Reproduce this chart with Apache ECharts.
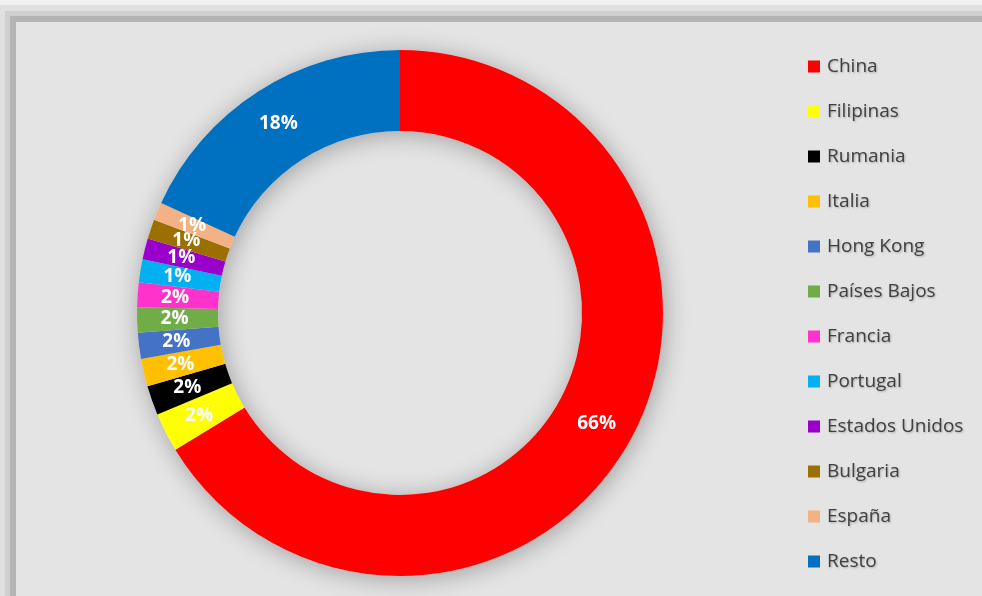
<!DOCTYPE html>
<html>
<head>
<meta charset="utf-8">
<script src="https://cdn.jsdelivr.net/npm/echarts@6/dist/echarts.min.js"></script>
<style>
  html, body { margin: 0; padding: 0; width: 982px; height: 596px; overflow: hidden; background: #f2f2f2; }
  #wrap { position: absolute; left: 16px; top: 22px; width: 1000px; height: 600px;
    background: #e4e4e4;
    box-shadow: -6px -6px 0 0 #b4b4b4, -11px -11px 0 0 #cfcfcf, -17px -17px 0 0 #e0e0e0; }
  #main { position: absolute; left: 0; top: 0; width: 966px; height: 574px; }
</style>
</head>
<body>
<div id="wrap"><div id="main"></div></div>
<script>
// países de origen y su cuota (%)
var paises = ['China', 'Filipinas', 'Rumania', 'Italia', 'Hong Kong', 'Países Bajos',
              'Francia', 'Portugal', 'Estados Unidos', 'Bulgaria', 'España', 'Resto'];
var cuotas = [66.3, 2.4, 1.8, 1.7, 1.6, 1.55, 1.52, 1.4, 1.3, 1.2, 1.1, 18.13];
var colores = ['#FF0000', '#FFFF00', '#000000', '#FFC000', '#4472C4', '#70AD47',
               '#FF33CC', '#00B0F0', '#9900CC', '#9C7000', '#F4B183', '#0070C0'];

var myChart = echarts.init(document.getElementById('main'));

var datos = [];
for (var i = 0; i < paises.length; i++) {
    datos.push({ name: paises[i], value: cuotas[i], itemStyle: { color: colores[i] } });
}

var option = {
    animation: false,
    legend: {
        orient: 'vertical',
        left: 787,
        top: 30,
        data: paises,
        icon: 'rect',
        itemWidth: 12,
        itemHeight: 12,
        itemGap: 26,
        textStyle: {
            fontFamily: 'Open Sans',
            fontSize: 19,
            color: '#404040',
            padding: [0, 0, 0, 2],
            textShadowColor: 'rgba(0,0,0,0.25)',
            textShadowBlur: 2,
            textShadowOffsetX: 1,
            textShadowOffsetY: 1
        }
    },
    series: [
        {
            // sombra del anillo
            type: 'pie',
            silent: true,
            center: [384, 291],
            radius: [182, 263],
            label: { show: false },
            labelLine: { show: false },
            itemStyle: {
                color: '#e4e4e4',
                shadowBlur: 24,
                shadowColor: 'rgba(0,0,0,0.3)',
                shadowOffsetX: 2,
                shadowOffsetY: 3
            },
            data: [{ name: '_sombra', value: 1 }]
        },
        {
            type: 'pie',
            center: [384, 291],
            radius: [182, 263],
            startAngle: 90,
            clockwise: true,
            avoidLabelOverlap: false,
            labelLayout: { hideOverlap: false },
            label: {
                show: true,
                position: 'inside',
                color: '#ffffff',
                fontFamily: 'Open Sans',
                fontWeight: 'bold',
                fontSize: 19,
                formatter: function (p) { return Math.round(p.value) + '%'; }
            },
            labelLine: { show: false },
            itemStyle: { borderWidth: 0 },
            data: datos
        }
    ]
};

myChart.setOption(option);
</script>
</body>
</html>
